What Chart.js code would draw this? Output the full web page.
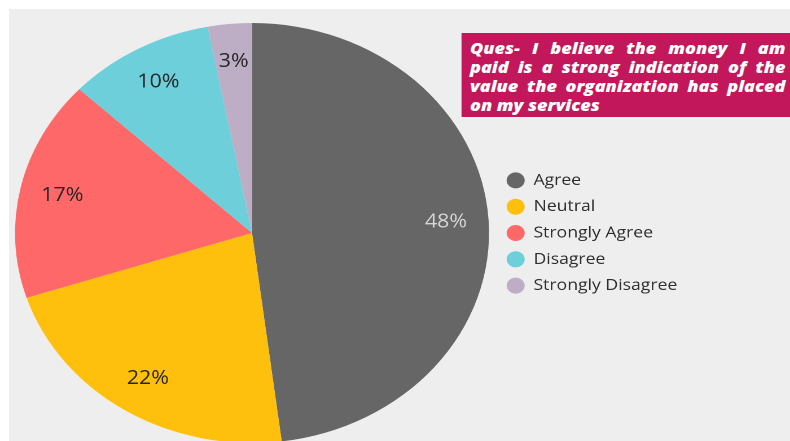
<!DOCTYPE html>
<html>
<head>
<meta charset="utf-8">
<script src="https://cdn.jsdelivr.net/npm/chart.js@4"></script>
<style>
  html, body { margin: 0; padding: 0; background: #fff; overflow: hidden; }
  /* the whole figure is laid out 700px wide and stretched out to 790px */
  #stage {
    position: absolute; left: 0; top: 0;
    width: 700px; height: 443px;
    transform: scaleX(1.1286); transform-origin: 0 0;
  }
  #panel { position: absolute; left: 8px; top: 9px; right: 0; bottom: 0; background: #eeeeee; }
  #chartBox { position: absolute; left: 0; top: 0; width: 700px; height: 443px; }
  #question {
    position: absolute; left: 409.4px; top: 33px; width: 290.6px; height: 84px;
    box-sizing: border-box; padding: 6px 4px 0 7px;
    background: #c2185b; color: #fff;
    font: italic 800 16px/19px "Open Sans", sans-serif;
  }
  #question div { text-align: justify; text-align-last: justify; white-space: nowrap; }
  #question div:last-child { text-align-last: left; }
</style>
</head>
<body>
<div id="stage">
  <div id="panel"></div>
  <div id="chartBox"><canvas id="pieChart"></canvas></div>
  <div id="question"></div>
</div>
<script>
const answers = ['Agree', 'Neutral', 'Strongly Agree', 'Disagree', 'Strongly Disagree'];
const shares = [48, 22, 17, 10, 3];
const questionLines = [
    'Ques- I believe the money I am',
    'paid is a strong indication of the',
    'value the organization has placed',
    'on my services'
];

const sliceColors = ['#666666', '#ffc00d', '#ff6868', '#6ccfda', '#bdaec6'];
const labelColors = ['#d6d6d6', '#262626', '#262626', '#262626', '#262626'];

// right edge of the pie area, where the legend column begins
const legendLeft = 438.2;

const question = document.getElementById('question');
questionLines.forEach(line => {
    const div = document.createElement('div');
    div.textContent = line;
    question.appendChild(div);
});

// percentage text inside each slice
const sliceLabels = {
    id: 'sliceLabels',
    afterDatasetsDraw(chart) {
        const ctx = chart.ctx;
        const meta = chart.getDatasetMeta(0);
        ctx.save();
        ctx.font = '19px "Open Sans", sans-serif';
        ctx.textAlign = 'center';
        ctx.textBaseline = 'middle';
        meta.data.forEach((arc, i) => {
            const { x, y, startAngle, endAngle, outerRadius } =
                arc.getProps(['x', 'y', 'startAngle', 'endAngle', 'outerRadius'], true);
            const mid = (startAngle + endAngle) / 2;
            const r = outerRadius * 0.82;
            ctx.fillStyle = labelColors[i];
            ctx.fillText(shares[i] + '%', x + Math.cos(mid) * r, y + Math.sin(mid) * r);
        });
        ctx.restore();
    }
};

const ctx = document.getElementById('pieChart').getContext('2d');
const chart = new Chart(ctx, {
    type: 'pie',
    data: {
        labels: answers,
        datasets: [{
            data: shares,
            backgroundColor: sliceColors,
            borderWidth: 0,
            hoverOffset: 0
        }]
    },
    options: {
        responsive: true,
        maintainAspectRatio: false,
        devicePixelRatio: 2,
        animation: false,
        events: [],
        layout: {
            padding: { top: 23, bottom: 0, left: 8.4, right: 100 }
        },
        plugins: {
            tooltip: { enabled: false },
            legend: {
                position: 'right',
                labels: {
                    color: '#2e2e2e',
                    font: { family: 'Open Sans', size: 15.6 },
                    usePointStyle: true,
                    pointStyle: 'circle',
                    pointStyleWidth: 16,
                    boxHeight: 11.3,
                    padding: 10.7
                }
            }
        }
    },
    plugins: [sliceLabels]
});

// pin the legend column next to the pie whatever its text width is
chart.options.layout.padding.right = 700 - legendLeft - chart.legend.width;
chart.update();
</script>
</body>
</html>
